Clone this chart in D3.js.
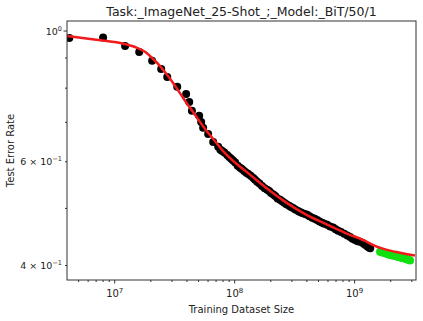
<!DOCTYPE html>
<html>
<head>
<meta charset="utf-8">
<script src="https://cdn.jsdelivr.net/npm/d3@7"></script>
<style>
  body { margin: 0; background: #fff; }
  text { font-family: "DejaVu Sans", sans-serif; fill: #222; }
</style>
</head>
<body>
<svg id="chart" width="423" height="321"></svg>
<script>
// black points: training size vs test error
const seenSize = [4.18e6, 8.0e6, 1.22e7, 1.6e7, 2.05e7, 2.44e7, 2.74e7, 3.32e7, 3.94e7, 4.18e7,
  4.4e7, 5.06e7, 5.26e7, 5.46e7, 6.01e7, 6.62e7, 7.29e7, 7.6e7, 7.87e7, 8.2e7, 8.66e7, 9.0e7, 9.35e7, 9.7e7,
  1.01e8, 1.06e8, 1.11e8, 1.15e8, 1.2e8, 1.25e8, 1.3e8, 1.36e8, 1.43e8, 1.48e8, 1.54e8, 1.61e8, 1.69e8, 1.78e8,
  1.87e8, 1.94e8, 2.01e8, 2.1e8, 2.18e8, 2.28e8, 2.39e8, 2.49e8, 2.59e8, 2.7e8, 2.84e8, 2.95e8, 3.07e8, 3.2e8,
  3.38e8, 3.5e8, 3.65e8, 3.85e8, 4.02e8, 4.2e8, 4.43e8, 4.65e8, 4.87e8, 5.1e8, 5.36e8, 5.6e8,
  5.9e8, 6.25e8, 6.62e8, 6.95e8, 7.29e8, 7.7e8, 8.18e8, 8.7e8, 9.18e8, 9.6e8, 1.01e9, 1.06e9, 1.11e9, 1.17e9,
  1.22e9, 1.28e9, 1.32e9, 1.35e9];
const seenErr = [0.973, 0.975, 0.943, 0.921, 0.890, 0.862, 0.836, 0.804, 0.782, 0.758,
  0.732, 0.718, 0.701, 0.685, 0.669, 0.648, 0.636, 0.629, 0.626, 0.622, 0.616, 0.611, 0.607, 0.603,
  0.598, 0.591, 0.586, 0.583, 0.579, 0.575, 0.572, 0.568, 0.563, 0.559, 0.555, 0.551, 0.546, 0.541,
  0.538, 0.535, 0.531, 0.528, 0.525, 0.520, 0.517, 0.514, 0.511, 0.508, 0.505, 0.503, 0.501, 0.498,
  0.495, 0.493, 0.491, 0.489, 0.488, 0.485, 0.482, 0.480, 0.478, 0.475, 0.473, 0.471,
  0.469, 0.466, 0.464, 0.461, 0.458, 0.456, 0.453, 0.450, 0.447, 0.444, 0.442, 0.440, 0.439, 0.437,
  0.434, 0.431, 0.429, 0.428];

// green points: held out
const heldSize = [1.63e9, 1.68e9, 1.72e9, 1.76e9, 1.8e9, 1.85e9, 1.89e9, 1.94e9, 1.98e9, 2.03e9, 2.08e9, 2.13e9,
  2.18e9, 2.23e9, 2.28e9, 2.33e9, 2.39e9, 2.45e9, 2.51e9, 2.58e9, 2.64e9, 2.7e9, 2.77e9, 2.84e9, 2.9e9];
const heldErr = [0.422, 0.4215, 0.421, 0.4205, 0.420, 0.419, 0.418, 0.4175, 0.417, 0.4165, 0.416, 0.4158,
  0.4155, 0.4148, 0.414, 0.4135, 0.413, 0.4125, 0.412, 0.4115, 0.411, 0.410, 0.4095, 0.409, 0.408];

// red fitted curve
const fitSize = [4.02e6, 6.25e6, 1.11e7, 1.48e7, 1.8e7, 2.05e7, 2.39e7, 2.74e7, 3.19e7, 3.72e7,
  4.26e7, 4.87e7, 5.67e7, 6.62e7, 7.87e7, 9.9e7, 1.35e8, 1.87e8, 2.64e8, 3.87e8,
  5.67e8, 8.33e8, 1.22e9, 1.51e9, 2.18e9, 3.19e9];
const fitErr = [0.981, 0.969, 0.954, 0.9395, 0.921, 0.900, 0.872, 0.842, 0.807, 0.770,
  0.740, 0.712, 0.682, 0.656, 0.628, 0.600, 0.570, 0.540, 0.513, 0.489,
  0.471, 0.4545, 0.4405, 0.431, 0.422, 0.416];

const xMajor = [1e7, 1e8, 1e9];
const xMajorExp = ["7", "8", "9"];
const yTicks = [1.0, 0.6, 0.4];
const yTickMant = ["", "6", "4"];
const yTickExp = ["0", "−1", "−1"];

const svg = d3.select("#chart");
const mLeft = 67, mRight = 416, mTop = 21, mBottom = 280;

const x = d3.scaleLog().domain([4.0e6, 3.25e9]).range([mLeft, mRight]);
const y = d3.scaleLog().domain([0.378, 1.04]).range([mBottom, mTop]);

svg.append("clipPath").attr("id", "clip")
  .append("rect").attr("x", mLeft).attr("y", mTop)
  .attr("width", mRight - mLeft).attr("height", mBottom - mTop);

const plot = svg.append("g").attr("clip-path", "url(#clip)");

// scatter
plot.selectAll(".seen")
  .data(seenSize.map((s, i) => [s, seenErr[i]]))
  .join("circle")
  .attr("class", "seen")
  .attr("cx", d => x(d[0]))
  .attr("cy", d => y(d[1]))
  .attr("r", 4)
  .attr("fill", "#000");

plot.selectAll(".held")
  .data(heldSize.map((s, i) => [s, heldErr[i]]))
  .join("circle")
  .attr("class", "held")
  .attr("cx", d => x(d[0]))
  .attr("cy", d => y(d[1]))
  .attr("r", 4)
  .attr("fill", "#11e011");

// fit line
const line = d3.line()
  .x(d => x(d[0]))
  .y(d => y(d[1]))
  .curve(d3.curveMonotoneX);

plot.append("path")
  .datum(fitSize.map((s, i) => [s, fitErr[i]]))
  .attr("d", line)
  .attr("fill", "none")
  .attr("stroke", "#f21a1a")
  .attr("stroke-width", 2.5);

// frame
svg.append("rect")
  .attr("x", mLeft).attr("y", mTop)
  .attr("width", mRight - mLeft).attr("height", mBottom - mTop)
  .attr("fill", "none").attr("stroke", "#333").attr("stroke-width", 1);

// x ticks
const xMinor = [];
for (let e = 6; e <= 9; e++) {
  for (let m = 2; m <= 9; m++) {
    const v = m * Math.pow(10, e);
    if (v > 4.0e6 && v < 3.25e9) xMinor.push(v);
  }
}
svg.selectAll(".xminor").data(xMinor).join("line")
  .attr("x1", d => x(d)).attr("x2", d => x(d))
  .attr("y1", mBottom).attr("y2", mBottom + 2)
  .attr("stroke", "#333");
svg.selectAll(".xmajor").data(xMajor).join("line")
  .attr("x1", d => x(d)).attr("x2", d => x(d))
  .attr("y1", mBottom).attr("y2", mBottom + 3.5)
  .attr("stroke", "#333");

xMajor.forEach((v, i) => {
  const t = svg.append("text")
    .attr("x", x(v)).attr("y", mBottom + 17)
    .attr("text-anchor", "middle")
    .attr("font-size", "10px");
  t.append("tspan").text("10");
  t.append("tspan").attr("dy", -4).attr("font-size", "7px").text(xMajorExp[i]);
});

// y ticks
const yMinor = [0.4, 0.5, 0.6, 0.7, 0.8, 0.9];
svg.selectAll(".yminor").data(yMinor).join("line")
  .attr("x1", mLeft - 2).attr("x2", mLeft)
  .attr("y1", d => y(d)).attr("y2", d => y(d))
  .attr("stroke", "#333");
svg.append("line")
  .attr("x1", mLeft - 3.5).attr("x2", mLeft)
  .attr("y1", y(1)).attr("y2", y(1))
  .attr("stroke", "#333");

yTicks.forEach((v, i) => {
  const t = svg.append("text")
    .attr("x", mLeft - 5).attr("y", y(v) + 3.5)
    .attr("text-anchor", "end")
    .attr("font-size", "9.5px");
  t.append("tspan").text(yTickMant[i] ? yTickMant[i] + " × 10" : "10");
  t.append("tspan").attr("dy", -4).attr("font-size", "6.5px").text(yTickExp[i]);
});

// labels
svg.append("text")
  .attr("x", (mLeft + mRight) / 2).attr("y", 16)
  .attr("text-anchor", "middle")
  .attr("font-size", "12.5px")
  .text("Task:_ImageNet_25-Shot_;_Model:_BiT/50/1");

svg.append("text")
  .attr("x", (mLeft + mRight) / 2).attr("y", 313)
  .attr("text-anchor", "middle")
  .attr("font-size", "10px")
  .text("Training Dataset Size");

svg.append("text")
  .attr("transform", "translate(14," + (mTop + mBottom) / 2 + ") rotate(-90)")
  .attr("text-anchor", "middle")
  .attr("font-size", "10px")
  .text("Test Error Rate");
</script>
</body>
</html>
